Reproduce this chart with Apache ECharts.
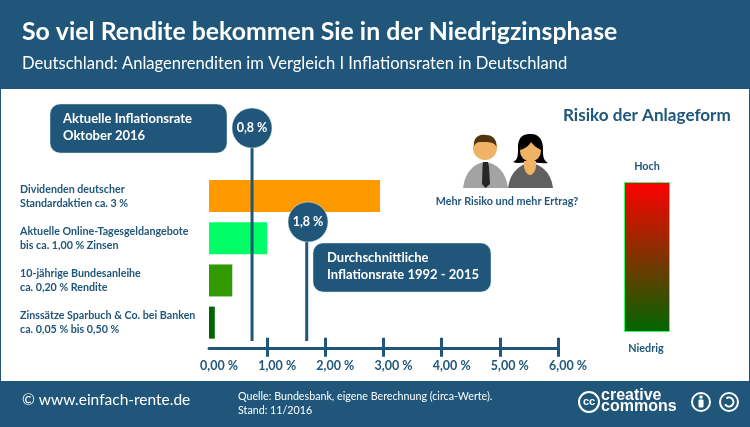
<!DOCTYPE html>
<html><head><meta charset="utf-8">
<style>html,body{margin:0;padding:0;background:#fff}#c{width:750px;height:427px}</style>
<script src="https://cdn.jsdelivr.net/npm/echarts@6/dist/echarts.min.js"></script>
</head><body><div id="c"></div>
<script>
const categories = [
  'Dividenden deutscher\nStandardaktien ca. 3 %',
  'Aktuelle Online-Tagesgeldangebote\nbis ca. 1,00 % Zinsen',
  '10-jährige Bundesanleihe\nca. 0,20 % Rendite',
  'Zinssätze Sparbuch & Co. bei Banken\nca. 0,05 % bis 0,50 %'
];
const values = [2.94, 1.0, 0.4, 0.1];
const barColors = ['#FF9900', '#00FF66', '#339900', '#006600'];
const markerValues = [0.74, 1.68];
const markerLabels = ['0,8 %', '1,8 %'];
const tickMax = 6;
const tickedValues = [1, 2, 3, 4, 5, 6];

const BLUE = '#1F5679';
const FONT = 'Lato, "Open Sans", sans-serif';
const markerTop = [128, 222];
const markerX = [252, 308];

const chart = echarts.init(document.getElementById('c'), null, {renderer: 'canvas'});

const txt = (x, y, text, size, weight, fill, align, extra) => Object.assign({
  type: 'text', x, y, z: 20,
  style: {text, font: `${weight} ${size}px ${FONT}`, fill, align: align || 'left', verticalAlign: 'middle', lineHeight: size * 1.3}
}, extra || {});

let pathId = 0;
const svg = (d, fill, z) => {
  const name = 'iconPath' + (pathId++);
  echarts.graphic.registerShape(name, echarts.graphic.extendPath(d, {}));
  return {type: name, z, shape: {}, style: {fill}};
};

const graphic = [
  {type: 'rect', z: -5, shape: {x: 0, y: 0, width: 750, height: 427}, style: {fill: '#fff', stroke: BLUE, lineWidth: 2}},
  {type: 'rect', z: 1, shape: {x: 0, y: 0, width: 750, height: 89}, style: {fill: BLUE}},
  {type: 'rect', z: 1, shape: {x: 0, y: 381, width: 750, height: 46}, style: {fill: BLUE}},
  txt(22, 32, 'So viel Rendite bekommen Sie in der Niedrigzinsphase', 24.8, 'bold', '#fff'),
  txt(22, 64, 'Deutschland: Anlagenrenditen im Vergleich I Inflationsraten in Deutschland', 16.6, 'normal', '#fff'),
  txt(22, 400, '© www.einfach-rente.de', 15.5, 'normal', '#fff'),
  txt(238, 397, 'Quelle: Bundesbank, eigene Berechnung (circa-Werte).', 10.7, 'normal', '#fff'),
  txt(238, 411, 'Stand: 11/2016', 10.7, 'normal', '#fff'),
  // callouts
  {type: 'rect', z: 10, shape: {x: 50, y: 104, width: 177, height: 49, r: 10}, style: {fill: BLUE, stroke: '#dfe8ee', lineWidth: 0.5}},
  txt(63, 119, 'Aktuelle Inflationsrate', 13, 'bold', '#fff'),
  txt(63, 136, 'Oktober 2016', 13, 'bold', '#fff'),
  {type: 'rect', z: 10, shape: {x: 313, y: 243, width: 178, height: 49, r: 10}, style: {fill: BLUE, stroke: '#dfe8ee', lineWidth: 0.5}},
  txt(327, 258, 'Durchschnittliche', 13, 'bold', '#fff'),
  txt(327, 275, 'Inflationsrate 1992 - 2015', 13, 'bold', '#fff'),
  // right panel
  txt(563, 115, 'Risiko der Anlageform', 17.1, 'bold', BLUE),
  txt(507, 202, 'Mehr Risiko und mehr Ertrag?', 10.8, 'bold', BLUE, 'center'),
  txt(647, 167, 'Hoch', 10.8, 'bold', BLUE, 'center'),
  txt(646, 349, 'Niedrig', 10.8, 'bold', BLUE, 'center'),
  {type: 'rect', z: 5, shape: {x: 624.5, y: 182.5, width: 45, height: 149},
    style: {stroke: '#33FF66', lineWidth: 1, fill: new echarts.graphic.LinearGradient(0, 0, 0, 1, [{offset: 0, color: '#FF0000'}, {offset: 1, color: '#006600'}])}},
  // man
  svg('M463 188 C465 172 474 163 485 162 C497 163 506 172 508 188 Z', '#A3A3A3', 5),
  svg('M483 162 L488 162 L489 167 L490 184 L485.5 188 L482 184 L482.5 167 Z', '#262626', 6),
  {type: 'circle', z: 6, shape: {cx: 485, cy: 148, r: 12}, style: {fill: '#F0B366'}},
  svg('M474 146 C473 135 482 134 486 135 C494 135 497 141 496.5 147 C494 141 486 142 480 142 C477 142 475 144 474 146 Z', '#4F3610', 7),
  // woman
  svg('M508 188 C510 172 520 164 530 163 C541 164 551 172 553 188 Z', '#606060', 5),
  svg('M513 162 C518 160 518 155 518 148 C518 136 524 134 531 134 C540 134 543 141 543 149 C543 156 543 160 548 163 C542 164 536 162 530 162 C524 162 518 164 513 162 Z', '#000', 5),
  svg('M524 161 L536 161 C537 168 534 175 530 175 C526 175 523 168 524 161 Z', '#F0B366', 6),
  {type: 'circle', z: 6, shape: {cx: 530.5, cy: 151, r: 10.5}, style: {fill: '#F0B366'}},
  svg('M520 150 C521 141 526 138 531 138 C538 138 541 143 541 150 C537 148 533 145 531 142 C529 146 524 149 520 150 Z', '#000', 7),
  // creative commons
  {type: 'circle', z: 6, shape: {cx: 589, cy: 402, r: 10}, style: {fill: 'none', stroke: '#fff', lineWidth: 2}},
  {type: 'text', x: 589, y: 402, z: 7, style: {text: 'cc', font: 'bold 11px "Liberation Sans", sans-serif', fill: '#fff', align: 'center', verticalAlign: 'middle'}},
  {type: 'text', x: 601, y: 396, z: 7, style: {text: 'creative', font: 'bold 16px "Liberation Sans", sans-serif', fill: '#fff', verticalAlign: 'middle'}},
  {type: 'text', x: 601, y: 407, z: 7, style: {text: 'commons', font: 'bold 16px "Liberation Sans", sans-serif', fill: '#fff', verticalAlign: 'middle'}},
  {type: 'circle', z: 6, shape: {cx: 701, cy: 402, r: 9}, style: {fill: 'none', stroke: '#fff', lineWidth: 2}},
  {type: 'circle', z: 7, shape: {cx: 701, cy: 397, r: 1.8}, style: {fill: '#fff'}},
  {type: 'rect', z: 7, shape: {x: 698.5, y: 399.5, width: 5, height: 8, r: 1}, style: {fill: '#fff'}},
  {type: 'circle', z: 6, shape: {cx: 729, cy: 402, r: 9}, style: {fill: 'none', stroke: '#fff', lineWidth: 2}},
  {type: 'arc', z: 7, shape: {cx: 729, cy: 402, r: 4.5, startAngle: -2.2, endAngle: 2.6}, style: {fill: 'none', stroke: '#fff', lineWidth: 2}}
];

chart.setOption({
  animation: false,
  backgroundColor: '#fff',
  textStyle: {fontFamily: FONT},
  grid: {left: 209, width: 349, top: 175, height: 168.7},
  xAxis: [
    {type: 'value', min: 0, max: tickMax, interval: 1, offset: 5, position: 'bottom',
      splitLine: {show: false},
      axisLine: {show: true, lineStyle: {color: BLUE, width: 3, cap: 'round'}},
      axisTick: {show: true, length: 8, customValues: tickedValues, lineStyle: {color: BLUE, width: 3}},
      axisLabel: {margin: 11, color: BLUE, fontSize: 12.5, fontWeight: 'bold', fontFamily: FONT, padding: [0, 0, 0, 20],
        hideOverlap: false, formatter: v => v.toFixed(2).replace('.', ',') + ' %'}},
    {type: 'value', min: 0, max: tickMax, interval: 1, offset: 5, position: 'bottom',
      splitLine: {show: false},
      axisLine: {show: false},
      axisTick: {show: true, inside: true, length: 11, customValues: tickedValues, lineStyle: {color: BLUE, width: 3}},
      axisLabel: {show: false}}
  ],
  yAxis: {type: 'category', inverse: true, data: categories,
    axisLine: {show: false}, axisTick: {show: false},
    axisLabel: {align: 'left', margin: 189, color: BLUE, fontSize: 10.7, fontWeight: 'bold', fontFamily: FONT, lineHeight: 14, padding: [4, 0, 0, 0]}},
  series: [
    {type: 'bar', barWidth: 32, silent: true,
      data: values.map((v, i) => ({value: v, itemStyle: {color: barColors[i]}}))},
    {type: 'custom', silent: true, clip: false, z: 8,
      data: markerValues.map((v, i) => [v, markerLabels[i], i]),
      encode: {x: 0},
      renderItem: (params, api) => {
        const i = api.value(2);
        const x = api.coord([api.value(0), 0])[0];
        const top = markerTop[i];
        return {type: 'group', children: [
          {type: 'line', shape: {x1: x, y1: top, x2: x, y2: 341}, style: {stroke: BLUE, lineWidth: 3}},
          {type: 'circle', shape: {cx: markerX[i], cy: top, r: 20}, style: {fill: BLUE, stroke: '#dfe8ee', lineWidth: 0.5}},
          {type: 'text', x: markerX[i], y: top, style: {text: markerLabels[i], font: `bold 12.5px ${FONT}`, fill: '#fff', align: 'center', verticalAlign: 'middle'}}
        ]};
      }}
  ],
  graphic
});
</script></body></html>
